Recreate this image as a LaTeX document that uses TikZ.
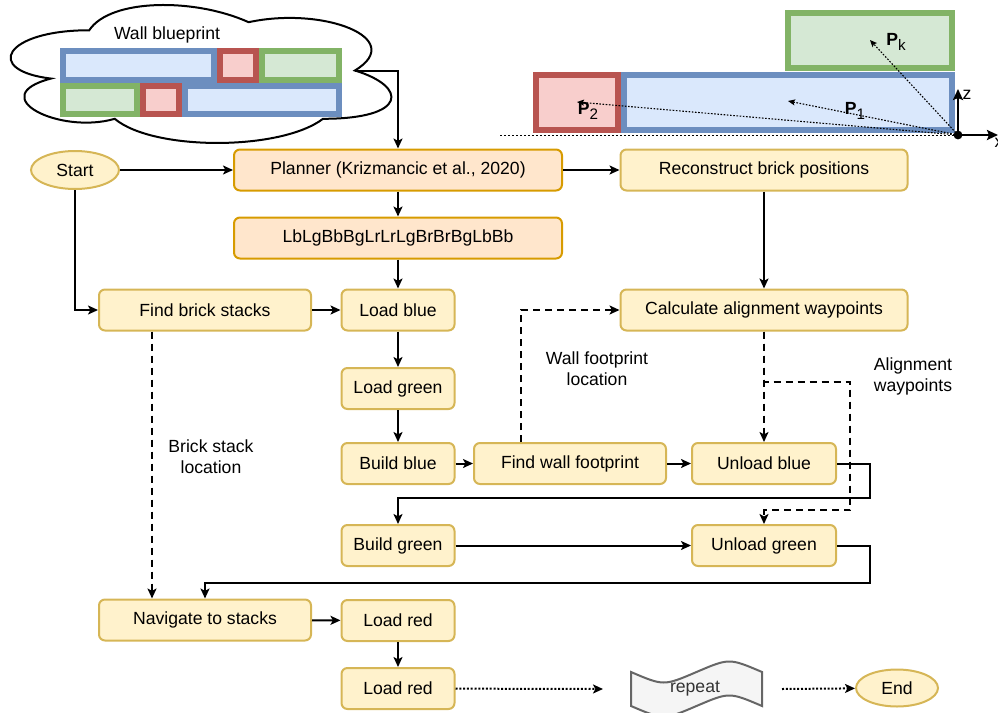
\documentclass[tikz,border=0pt]{standalone}
\usepackage{fontspec}
\setmainfont{Liberation Sans}
\usepackage{tikz}
\usetikzlibrary{positioning,calc,arrows.meta,shapes.geometric}
\definecolor{boxfill}{HTML}{FFF2CC}
\definecolor{boxline}{HTML}{D6B656}
\definecolor{planfill}{HTML}{FFE6CC}
\definecolor{planline}{HTML}{D79B00}
\definecolor{bluefill}{HTML}{DAE8FC}
\definecolor{blueline}{HTML}{6C8EBF}
\definecolor{redfill}{HTML}{F8CECC}
\definecolor{redline}{HTML}{B85450}
\definecolor{greenfill}{HTML}{D5E8D4}
\definecolor{greenline}{HTML}{82B366}
\definecolor{tapefill}{HTML}{F5F5F5}
\definecolor{tapeline}{HTML}{666666}
\definecolor{tapetext}{HTML}{333333}
\newcommand{\possub}[1]{\raisebox{-0.45ex}{\fontsize{7.6}{8}\selectfont #1}}
\tikzset{
  flowfont/.style={font=\fontsize{8.8}{10.5}\selectfont},
  flowbox/.style={draw=boxline, fill=boxfill, line width=1pt, rounded corners=3pt, align=center, minimum height=20.5pt, inner sep=2pt},
  flowboxplan/.style={flowbox, draw=planline, fill=planfill},
  flowterm/.style={ellipse, draw=boxline, fill=boxfill, line width=1pt, minimum height=19pt, inner sep=1pt},
  flowlabel/.style={align=center},
  flowarrow/.style={-{Stealth[length=5pt,width=4.5pt,inset=1.2pt]}, line width=1pt},
  flowarrowdashed/.style={flowarrow, dash pattern=on 3.5pt off 2.5pt},
  flowarrowdotted/.style={flowarrow, dash pattern=on 1pt off 0.9pt},
  brick/.style={line width=3pt},
  brickblue/.style={brick, draw=blueline, fill=bluefill},
  brickred/.style={brick, draw=redline, fill=redfill},
  brickgreen/.style={brick, draw=greenline, fill=greenfill},
  axisarrow/.style={-{Stealth[length=5.5pt,width=5pt,inset=1pt]}, line width=1.3pt},
  posarrow/.style={-{Stealth[length=3.5pt,width=3pt,inset=0.7pt]}, line width=0.55pt, dash pattern=on 0.8pt off 0.8pt},
}
\begin{document}
\begin{tikzpicture}[x=0.5pt,y=-0.5pt,flowfont]
  \useasboundingbox (0,0) rectangle (998,713);

  % Wall blueprint in a cloud
  \draw[line width=1pt, fill=white]
    (89.25,30.25) .. controls (4.25,30.25) and (-17,70.5) .. (51,78.55)
    .. controls (-17,96.26) and (59.5,134.9) .. (114.75,118.8)
    .. controls (153,151) and (280.5,151) .. (323,118.8)
    .. controls (408,118.8) and (408,86.6) .. (354.9,70.5)
    .. controls (408,38.3) and (323,6.1) .. (248.6,22.2)
    .. controls (195.5,-1.95) and (110.5,-1.95) .. (89.25,30.25) -- cycle;
  \coordinate (blueprint) at (354.9,70.5);
  \node (blueprinttitle) at (167,35) {Wall blueprint};
  \draw[brickblue]  (63,51) rectangle (214,80);
  \draw[brickred]   (220,51) rectangle (256,80);
  \draw[brickgreen] (262,51) rectangle (339,80);
  \draw[brickgreen] (63,86) rectangle (137,114);
  \draw[brickred]   (143,86) rectangle (179,114);
  \draw[brickblue]  (185,86) rectangle (339,114);

  % Brick positions relative to the wall origin
  \coordinate (origin) at (958,135);
  \draw[line width=0.5pt, dash pattern=on 1pt off 1pt] (500,135) -- (origin);
  \draw[brickgreen] (788,13) rectangle (952,68);
  \draw[brickblue]  (624,75) rectangle (952,130);
  \draw[brickred]   (536,75) rectangle (618,130);
  \coordinate (pk) at (870,40);
  \coordinate (p1) at (788,101);
  \coordinate (p2) at (577,102);
  \draw[posarrow] (origin) -- (pk);
  \draw[posarrow] (origin) -- (p1);
  \draw[posarrow] (origin) -- (p2);
  \node (pklabel) at (896,42) {\textbf{P}\possub{k}};
  \node (p1label) at (855,111) {\textbf{P}\possub{1}};
  \node (p2label) at (588,111) {\textbf{P}\possub{2}};
  \coordinate (zaxis) at (958,89);
  \coordinate (xaxis) at (998,135);
  \draw[axisarrow] (origin) -- (zaxis);
  \draw[axisarrow] (origin) -- (xaxis);
  \fill (origin) circle (2.2pt);
  \node (zlabel) at (967,95) {z};
  \node (xlabel) at (999,143) {x};

  % Flow nodes
  \node[flowterm, minimum width=44pt] (start) at (75,170) {Start};
  \node[flowboxplan, minimum width=164pt] (planner) at (398,170) {Planner (Krizmancic et al., 2020)};
  \node[flowboxplan, minimum width=164pt] (sequence) at (398,238) {LbLgBbBgLrLrLgBrBrBgLbBb};
  \node[flowbox, minimum width=143.5pt] (reconstruct) at (764,170) {Reconstruct brick positions};
  \node[flowbox, minimum width=106pt] (findstacks) at (205,310) {Find brick stacks};
  \node[flowbox, minimum width=56.5pt] (loadblue) at (398,310) {Load blue};
  \node[flowbox, minimum width=143.5pt] (calcwp) at (764,310) {Calculate alignment waypoints};
  \node[flowbox, minimum width=56.5pt] (loadgreen) at (398,388.5) {Load green};
  \node[flowbox, minimum width=56.5pt] (buildblue) at (398,463.5) {Build blue};
  \node[flowbox, minimum width=96pt] (findwall) at (570,463.5) {Find wall footprint};
  \node[flowbox, minimum width=72pt] (unloadblue) at (764,463.5) {Unload blue};
  \node[flowbox, minimum width=56.5pt] (buildgreen) at (398,545.5) {Build green};
  \node[flowbox, minimum width=72pt] (unloadgreen) at (764,545.5) {Unload green};
  \node[flowbox, minimum width=106pt] (navigate) at (205,620) {Navigate to stacks};
  \node[flowbox, minimum width=56.5pt] (loadredA) at (398,620.5) {Load red};
  \node[flowbox, minimum width=56.5pt] (loadredB) at (398,688.5) {Load red};
  \draw[tapeline, fill=tapefill, line width=1pt]
    (631,672) .. controls (663.75,686) .. (696.5,672) .. controls (729.25,658) .. (762,672)
    -- (762,706) .. controls (729.25,692) .. (696.5,706) .. controls (663.75,720) .. (631,706) -- cycle;
  \node[text=tapetext] (repeat) at (695,689) {repeat};
  \coordinate (repeatin) at (603,689);
  \coordinate (repeatout) at (782,689);
  \node[flowterm, minimum width=41pt, minimum height=18.5pt] (finish) at (897,688) {End};

  % Edge labels
  \node[flowlabel] (footprintlabel) at (597,369) {Wall footprint\\location};
  \node[flowlabel] (waypointlabel) at (913,376) {Alignment\\waypoints};
  \node[flowlabel] (stacklabel) at (211,457) {Brick stack\\location};

  % Control flow
  \draw[flowarrow] (blueprint) -| (planner.north);
  \draw[flowarrow] (start) -- (planner);
  \draw[flowarrow] (start) |- (findstacks);
  \draw[flowarrow] (planner) -- (sequence);
  \draw[flowarrow] (sequence) -- (loadblue);
  \draw[flowarrow] (findstacks) -- (loadblue);
  \draw[flowarrow] (planner) -- (reconstruct);
  \draw[flowarrow] (reconstruct) -- (calcwp);
  \draw[flowarrow] (loadblue) -- (loadgreen);
  \draw[flowarrow] (loadgreen) -- (buildblue);
  \draw[flowarrow] (buildblue) -- (findwall);
  \draw[flowarrow] (findwall) -- (unloadblue);
  \draw[flowarrow] (unloadblue.east) -| (870,498) -| (buildgreen.north);
  \draw[flowarrow] (buildgreen) -- (unloadgreen);
  \draw[flowarrow] (unloadgreen.east) -| (870,583) -| (navigate.north);
  \draw[flowarrow] (navigate) -- (loadredA);
  \draw[flowarrow] (loadredA) -- (loadredB);

  % Information flow
  \draw[flowarrowdashed] ([xshift=-26.5pt]findstacks.south) -- ([xshift=-26.5pt]navigate.north);
  \draw[flowarrowdashed] ([xshift=-24.5pt]findwall.north) |- (calcwp.west);
  \draw[flowarrowdashed] (calcwp) -- (unloadblue);
  \draw[flowarrowdashed] (calcwp.south) |- (850,382) -- (850,510) -| (unloadgreen.north);

  % Repeat
  \draw[flowarrowdotted] (loadredB) -- (repeatin);
  \draw[flowarrowdotted] (repeatout) -- (finish);
\end{tikzpicture}
\end{document}
